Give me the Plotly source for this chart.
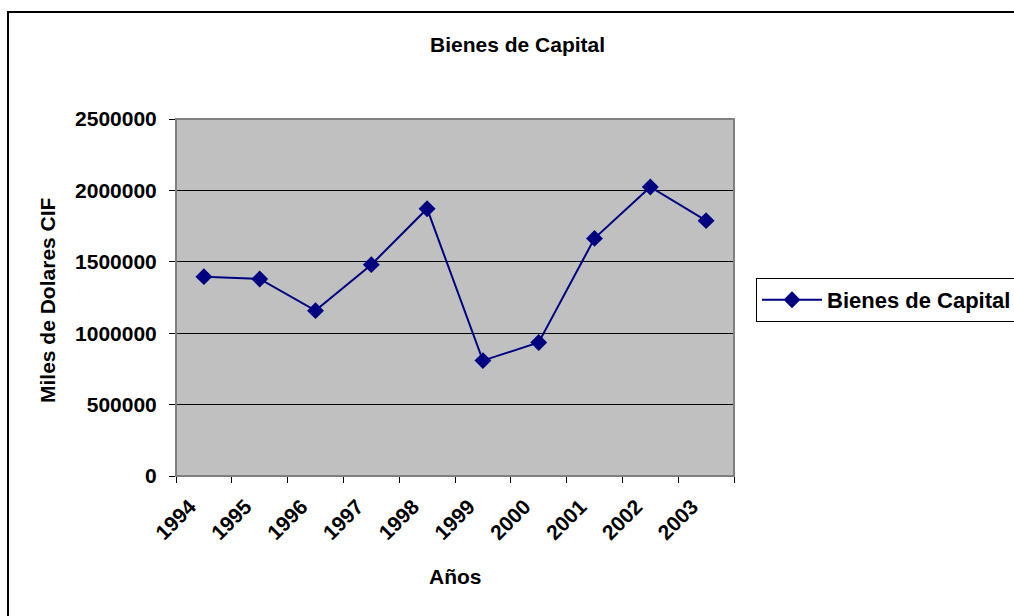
import plotly.graph_objects as go

years = ["1994", "1995", "1996", "1997", "1998", "1999", "2000", "2001", "2002", "2003"]
values = [1396000, 1380000, 1158000, 1480000, 1872000, 808000, 935000, 1664000, 2024000, 1788000]
y_ticks = [0, 500000, 1000000, 1500000, 2000000, 2500000]
series_name = "Bienes de Capital"
title_text = "Bienes de Capital"
x_title = "Años"
y_title = "Miles de Dolares CIF"

FONT = "Liberation Sans, Arial, sans-serif"
FS = 21
W, H = 1014, 616
# target plot area in page pixels: x 176..734, y 119..476
L, T = 176, 119
R = W - 734
B = H - 476
PW = W - L - R
PH = H - T - B

def px_x(px):
    return (px - L) / PW

def px_y(py):
    return (H - B - py) / PH

fig = go.Figure()
fig.add_trace(go.Scatter(
    x=years, y=values, name=series_name, mode="lines+markers",
    line=dict(color="#000080", width=2),
    marker=dict(symbol="diamond", size=13, color="#000080"),
))

fig.update_layout(
    width=W, height=H, autosize=False,
    margin=dict(l=L, r=R, t=T, b=B, pad=0, autoexpand=False),
    paper_bgcolor="white", plot_bgcolor="#C0C0C0",
    font=dict(family=FONT, size=FS, color="black", weight="bold"),
    showlegend=True,
    legend=dict(
        xref="container", yref="container",
        x=756 / W, y=1 - 278 / H, xanchor="left", yanchor="top",
        bgcolor="white", bordercolor="black", borderwidth=1,
        itemwidth=60,
        font=dict(family=FONT, size=22, color="black", weight="bold"),
    ),
    annotations=[
        dict(text=title_text, xref="paper", yref="paper", x=px_x(517), y=px_y(44),
             xanchor="center", yanchor="middle", showarrow=False,
             font=dict(family=FONT, size=FS, weight="bold")),
        dict(text=x_title, xref="paper", yref="paper", x=px_x(455), y=px_y(576),
             xanchor="center", yanchor="middle", showarrow=False,
             font=dict(family=FONT, size=FS, weight="bold")),
        dict(text=y_title, xref="paper", yref="paper", x=px_x(47), y=px_y(300),
             xanchor="center", yanchor="middle", showarrow=False, textangle=-90,
             font=dict(family=FONT, size=FS, weight="bold")),
    ],
    shapes=[
        dict(type="rect", xref="paper", yref="paper", x0=0, x1=1, y0=0, y1=1,
             line=dict(color="#808080", width=2), layer="above"),
        dict(type="rect", xref="paper", yref="paper", x0=px_x(8), x1=px_x(1060),
             y0=px_y(660), y1=px_y(12), line=dict(color="black", width=2),
             layer="above"),
    ],
)

fig.update_xaxes(
    type="category", range=[-0.5, len(years) - 0.5], tickson="boundaries",
    ticks="outside", ticklen=6, tickcolor="black", tickwidth=1,
    showline=True, linecolor="black", linewidth=1, showgrid=False,
    tickangle=-45, ticklabelstandoff=9, ticklabelshift=-14,
    tickfont=dict(family=FONT, size=FS, weight="bold"),
)
fig.update_yaxes(
    range=[0, 2500000], tickvals=y_ticks, tickformat="d",
    ticks="outside", ticklen=6, tickcolor="black", tickwidth=1,
    showline=True, linecolor="black", linewidth=1,
    showgrid=True, gridcolor="black", gridwidth=1, zeroline=False,
    ticklabelstandoff=8, tickfont=dict(family=FONT, size=FS, weight="bold"),
)

fig.write_html(
    "out.html",
    config={"displayModeBar": False},
    post_script="document.body.style.margin='0';document.body.style.overflow='hidden';",
)
